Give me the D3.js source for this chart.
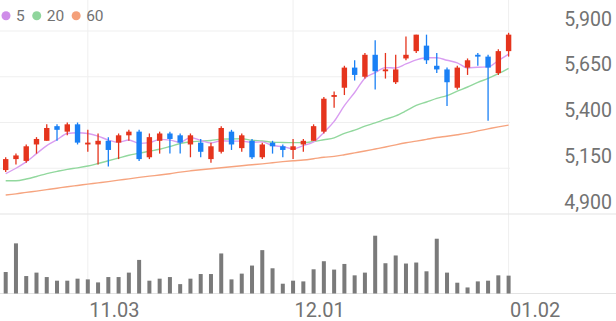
<!DOCTYPE html>
<html><head><meta charset="utf-8">
<script src="https://cdn.jsdelivr.net/npm/d3@7"></script>
<style>
body{margin:0;background:#fff}
svg{display:block}
text{font-family:Roboto,"Noto Sans",sans-serif}
</style>
</head><body>
<svg id="chart" width="616" height="321"></svg>
<script>
const dates = ["10.22","10.23","10.24","10.27","10.28","10.29","10.30","10.31","11.03","11.04","11.05","11.06","11.07","11.10","11.11","11.12","11.13","11.14","11.17","11.18","11.19","11.20","11.21","11.24","11.25","11.26","11.27","11.28","12.01","12.02","12.03","12.04","12.05","12.08","12.09","12.10","12.11","12.12","12.15","12.16","12.17","12.18","12.19","12.22","12.23","12.24","12.26","12.29","12.30","01.02"];
const open  = [5140,5200,5190,5280,5300,5380,5350,5390,5280,5280,5300,5290,5330,5350,5210,5300,5340,5330,5280,5290,5200,5240,5350,5260,5300,5210,5290,5270,5250,5280,5300,5350,5540,5590,5700,5650,5770,5680,5620,5750,5790,5820,5710,5690,5590,5700,5770,5760,5670,5790];
const high  = [5210,5230,5280,5320,5390,5390,5400,5400,5360,5340,5320,5340,5360,5360,5340,5350,5350,5340,5340,5310,5290,5380,5360,5340,5310,5290,5300,5280,5310,5310,5390,5540,5570,5710,5740,5780,5850,5780,5770,5870,5880,5880,5780,5700,5710,5750,5780,5770,5800,5890];
const low   = [5130,5170,5180,5230,5300,5300,5330,5280,5240,5170,5160,5200,5300,5190,5200,5230,5230,5230,5210,5210,5180,5230,5250,5240,5200,5200,5230,5210,5200,5240,5300,5340,5480,5550,5630,5640,5580,5640,5610,5740,5780,5720,5670,5490,5580,5660,5710,5410,5660,5760];
const close = [5200,5220,5270,5310,5370,5360,5390,5290,5290,5300,5250,5330,5350,5200,5320,5340,5310,5290,5330,5240,5270,5370,5280,5330,5210,5280,5270,5250,5270,5300,5380,5530,5550,5700,5660,5770,5680,5690,5690,5770,5880,5740,5690,5620,5700,5740,5760,5700,5790,5880];
const volume = [213000,497000,173000,207000,163000,127000,127000,147000,140000,110000,163000,163000,207000,333000,127000,147000,163000,93000,147000,193000,193000,397000,140000,197000,277000,430000,250000,97000,127000,120000,240000,320000,237000,293000,180000,207000,573000,300000,377000,297000,307000,220000,543000,207000,107000,60000,120000,127000,180000,177000];
const ma5  = [5120,5150,5185,5230,5274,5306,5340,5344,5340,5326,5304,5292,5304,5286,5290,5308,5304,5292,5318,5302,5288,5300,5298,5298,5292,5294,5274,5268,5256,5274,5294,5346,5406,5492,5564,5642,5672,5700,5698,5720,5742,5754,5754,5740,5726,5698,5702,5704,5738,5774];
const ma20 = [5082,5082,5091,5105,5121,5133,5144,5152,5162,5176,5191,5206,5221,5232,5243,5254,5269,5285,5295,5298,5302,5309,5310,5311,5303,5299,5293,5291,5290,5290,5296,5306,5316,5341,5358,5380,5398,5418,5436,5463,5493,5512,5532,5547,5571,5594,5619,5641,5667,5696];
const ma60 = [5004,5010,5018,5025,5033,5041,5049,5056,5063,5070,5077,5085,5092,5100,5107,5113,5120,5129,5136,5142,5147,5153,5158,5164,5169,5174,5180,5186,5191,5195,5202,5210,5215,5224,5234,5244,5255,5266,5278,5289,5298,5308,5318,5325,5333,5342,5354,5365,5376,5386];
const priceTicks = [4900,5150,5400,5650,5900];
const dateTicks = ["11.03","12.01","01.02"];
const legendLabels = ["5","20","60"];

const colors = {up:"#e5341d", down:"#1a80f5", ma5:"#d99df1", ma20:"#92d89e", ma60:"#f6a47f",
  legend:["#cf8de9","#8fd59c","#f4a07a"], vol:"#7a7a7a", grid:"#efefef", sep:"#e3e3e3", text:"#727272"};

const svg = d3.select("#chart");
const W = 616;
const x = d3.scalePoint().domain(dates).range([5.7, 508.6]);
const y = d3.scaleLinear().domain([4900, 5900]).range([214, 31]);
const volBase = 293.5;
const yv = d3.scaleLinear().domain([0, d3.max(volume)]).range([volBase, 235.7]);
const plotRight = 510;

// horizontal gridlines
svg.append("g").selectAll("line").data(priceTicks.slice(1)).join("line")
  .attr("x1", 0).attr("x2", plotRight).attr("y1", d => y(d)).attr("y2", d => y(d))
  .attr("stroke", colors.grid).attr("stroke-width", 1);
// vertical gridlines
svg.append("g").selectAll("line").data(dateTicks).join("line")
  .attr("x1", d => x(d)).attr("x2", d => x(d)).attr("y1", 0).attr("y2", volBase)
  .attr("stroke", colors.grid).attr("stroke-width", 1);
// pane separator & volume baseline
svg.append("line").attr("x1", 0).attr("x2", W).attr("y1", y(4900)).attr("y2", y(4900))
  .attr("stroke", colors.sep).attr("stroke-width", 1.2);
svg.append("line").attr("x1", 0).attr("x2", W).attr("y1", volBase).attr("y2", volBase)
  .attr("stroke", colors.sep).attr("stroke-width", 1.2);

// moving averages
const line = d3.line().x((d, i) => x(dates[i])).y(d => y(d)).curve(d3.curveMonotoneX);
[[ma60, colors.ma60], [ma20, colors.ma20], [ma5, colors.ma5]].forEach(([arr, c]) => {
  svg.append("path").datum(arr).attr("d", line).attr("fill", "none")
    .attr("stroke", c).attr("stroke-width", 1.4);
});

// candles
const idx = d3.range(dates.length);
const bodyW = 5.4;
const cg = svg.append("g");
cg.selectAll("line").data(idx).join("line")
  .attr("x1", i => x(dates[i])).attr("x2", i => x(dates[i]))
  .attr("y1", i => y(high[i])).attr("y2", i => y(low[i]))
  .attr("stroke", i => close[i] >= open[i] ? colors.up : colors.down).attr("stroke-width", 1.3);
cg.selectAll("rect").data(idx).join("rect")
  .attr("x", i => x(dates[i]) - bodyW / 2).attr("width", bodyW)
  .attr("y", i => y(Math.max(open[i], close[i])))
  .attr("height", i => Math.max(1.5, Math.abs(y(open[i]) - y(close[i]))))
  .attr("fill", i => close[i] >= open[i] ? colors.up : colors.down);

// volume
const volW = 4;
svg.append("g").selectAll("rect").data(idx).join("rect")
  .attr("x", i => x(dates[i]) - volW / 2).attr("width", volW)
  .attr("y", i => yv(volume[i])).attr("height", i => volBase - yv(volume[i]))
  .attr("fill", colors.vol);

// y axis labels
const yAxis = svg.append("g").call(d3.axisRight(y).tickValues(priceTicks).tickFormat(d3.format(",")).tickSize(0));
yAxis.select(".domain").remove();
yAxis.selectAll("text").attr("x", 612).attr("dy", -6).attr("text-anchor", "end")
  .attr("fill", colors.text).style("font-size", "19.5px").style("font-family", "Roboto");

// x axis labels
const xAxis = svg.append("g").attr("transform", `translate(0,${volBase})`)
  .call(d3.axisBottom(x).tickValues(dateTicks).tickSize(0));
xAxis.select(".domain").remove();
xAxis.selectAll("text").attr("x", 1).attr("y", 23).attr("dy", 0).attr("text-anchor", "start")
  .attr("fill", colors.text).style("font-size", "20px").style("font-family", "Roboto");

// legend
const lg = svg.append("g");
let lx = 6;
legendLabels.forEach((lab, k) => {
  lg.append("circle").attr("cx", lx).attr("cy", 15.7).attr("r", 4.5).attr("fill", colors.legend[k]);
  const t = lg.append("text").attr("x", lx + 10).attr("y", 21).text(lab)
    .attr("fill", colors.text).style("font-size", "15.5px");
  lx = lx + 10 + t.node().getComputedTextLength() + 12;
});
</script>
</body></html>
